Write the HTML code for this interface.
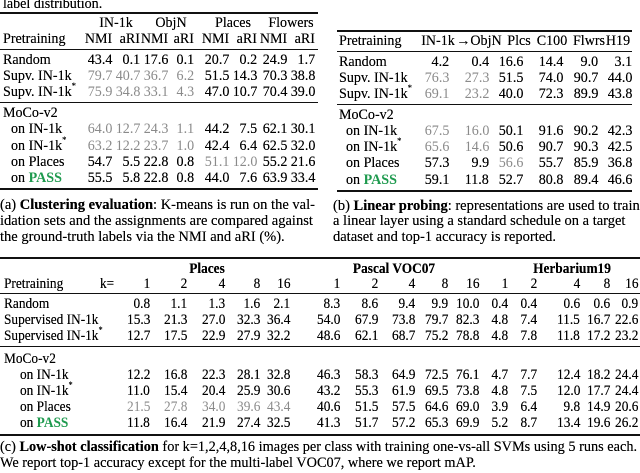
<!DOCTYPE html>
<html><head><meta charset="utf-8">
<style>
html,body{margin:0;padding:0;background:#fff;}
#root{position:relative;width:640px;height:473px;overflow:hidden;font-family:"Liberation Serif",serif;color:#000;}
.t{position:absolute;white-space:nowrap;line-height:16px;height:16px;text-shadow:0 0 0.3px #000;}
.r{position:absolute;background:#111;}
.g{color:#8a8a8a;text-shadow:none;}
.pass{color:#1e9a4e;font-weight:bold;text-shadow:none;}
sup{font-size:9px;line-height:0;position:relative;top:-1px;vertical-align:super;}
</style></head>
<body>
<div id="root"></div>
<script>
// ---- Table (a) clustering data ----
const aRows = ["Random","Supv. IN-1k","Supv. IN-1k*","MoCo-v2","on IN-1k","on IN-1k*","on Places","on PASS"];
const aVals = [
 ["43.4","0.1","17.6","0.1","20.7","0.2","24.9","1.7"],
 ["79.7","40.7","36.7","6.2","51.5","14.3","70.3","38.8"],
 ["75.9","34.8","33.1","4.3","47.0","10.7","70.4","39.0"],
 null,
 ["64.0","12.7","24.3","1.1","44.2","7.5","62.1","30.1"],
 ["63.2","12.2","23.7","1.0","42.4","6.4","62.5","32.0"],
 ["54.7","5.5","22.8","0.8","51.1","12.0","55.2","21.6"],
 ["55.5","5.8","22.8","0.8","44.0","7.6","63.9","33.4"]];
const aGray = [[],[0,1,2,3],[0,1,2,3],[],[0,1,2,3],[0,1,2,3],[4,5],[]];
const aGroups = ["IN-1k","ObjN","Places","Flowers"];
// ---- Table (b) linear probing data ----
const bHeads = ["IN-1k","\u2192ObjN","Plcs","C100","Flwrs","H19"];
const bVals = [
 ["4.2","0.4","16.6","14.4","9.0","3.1"],
 ["76.3","27.3","51.5","74.0","90.7","44.0"],
 ["69.1","23.2","40.0","72.3","89.9","43.8"],
 null,
 ["67.5","16.0","50.1","91.6","90.2","42.3"],
 ["65.6","14.6","50.6","90.7","90.3","42.5"],
 ["57.3","9.9","56.6","55.7","85.9","36.8"],
 ["59.1","11.8","52.7","80.8","89.4","46.6"]];
const bGray = [[],[0,1],[0,1],[],[0,1],[0,1],[2],[]];
// ---- Table (c) low-shot data ----
const cRows = ["Random","Supervised IN-1k","Supervised IN-1k*","MoCo-v2","on IN-1k","on IN-1k*","on Places","on PASS"];
const cGroups = ["Places","Pascal VOC07","Herbarium19"];
const cK = ["1","2","4","8","16"];
const cVals = [
 ["0.8","1.1","1.3","1.6","2.1","8.3","8.6","9.4","9.9","10.0","0.4","0.4","0.6","0.6","0.9"],
 ["15.3","21.3","27.0","32.3","36.4","54.0","67.9","73.8","79.7","82.3","4.8","7.4","11.5","16.7","22.6"],
 ["12.7","17.5","22.9","27.9","32.2","48.6","62.1","68.7","75.2","78.8","4.8","7.8","11.8","17.2","23.2"],
 null,
 ["12.2","16.8","22.3","28.1","32.8","46.3","58.3","64.9","72.5","76.1","4.7","7.7","12.4","18.2","24.4"],
 ["11.0","15.4","20.4","25.9","30.6","43.2","55.3","61.9","69.5","73.8","4.8","7.5","12.0","17.7","24.4"],
 ["21.5","27.8","34.0","39.6","43.4","40.6","51.5","57.5","64.6","69.0","3.9","6.4","9.8","14.9","20.6"],
 ["11.8","16.4","21.9","27.4","32.5","41.3","51.7","57.2","65.3","69.9","5.2","8.7","13.4","19.6","26.2"]];
const cGray = [[],[],[],[],[],[],[0,1,2,3,4],[]];

const root = document.getElementById('root');
function txt(s, x, y, opts){
  opts = opts || {};
  const d = document.createElement('div');
  d.className = 't' + (opts.cls ? ' ' + opts.cls : '');
  d.style.top = (y - 8) + 'px';
  d.style.fontSize = (opts.fs || 14.5) + 'px';
  const sx = opts.sx || 1;
  if (opts.bold) d.style.fontWeight = 'bold';
  if (opts.align === 'right') { d.style.right = (640 - x) + 'px'; d.style.transformOrigin = 'right center'; }
  else if (opts.align === 'center') { d.style.left = (x - 100) + 'px'; d.style.width = '200px'; d.style.textAlign = 'center'; d.style.transformOrigin = 'center center'; }
  else { d.style.left = x + 'px'; d.style.transformOrigin = 'left center'; }
  if (sx !== 1) d.style.transform = 'scaleX(' + sx + ')';
  d.innerHTML = s;
  root.appendChild(d);
  return d;
}
function rule(x, y, w, h){
  const d = document.createElement('div');
  d.className = 'r';
  d.style.left = x + 'px'; d.style.top = y + 'px'; d.style.width = w + 'px'; d.style.height = h + 'px';
  
  
  root.appendChild(d);
}
function label(s){
  return s.replace('PASS','<span class="pass">PASS</span>').replace('*','<sup>*</sup>');
}
const SA = 0.97, FA = 14.5, SC = 0.92, FC = 14.5;

// ---------- Table (a) ----------
let c = txt('label distribution.', 3, 4, {sx:SA, fs:FA});


rule(0, 12, 318, 1.5); rule(0, 49, 318, 1); rule(0, 102, 318, 1); rule(0, 188, 318, 1.5);
const aRight = [112,140,168,194,229,257,287,315];
const aRowY = [60,76,92,113,129,146,162,178];
aGroups.forEach((g,i)=>{
  const e = txt(g, (aRight[2*i]+aRight[2*i+1])/2 - 10, 23, {align:'center', sx:SA, fs:FA});
  
  
  const n = txt('NMI', aRight[2*i], 39, {align:'right', sx:SA, fs:FA});
  
  
  const a = txt('aRI', aRight[2*i+1], 39, {align:'right', sx:SA, fs:FA});
  
  
});
let h = txt('Pretraining', 3, 39, {sx:SA, fs:FA});


aRows.forEach((r,i)=>{
  const e = txt(label(r), i>3 ? 11 : 3, aRowY[i], {sx:SA, fs:FA});
  
  
  if (!aVals[i]) return;
  aVals[i].forEach((v,j)=>{
    const cell = txt(v, aRight[j], aRowY[i], {align:'right', sx:SA, fs:FA, cls: aGray[i].includes(j)?'g':''});
    
    
  });
});
c = txt('(a) <b>Clustering evaluation</b>: K-means is run on the val-', 0, 205);


txt('idation sets and the assignments are compared against', 0, 221);
txt('the ground-truth labels via the NMI and aRI (%).', 0, 237);

// ---------- Table (b) ----------
rule(337, 30, 295, 1.5); rule(337, 51, 295, 1); rule(337, 104, 295, 1); rule(337, 190, 295, 1.5);
const bRight = [449,489,523,563,598,632];
const bCenter = [438,479,519,552,589,618];
const bRowY = [62,78,94,115,131,147,163,180];
h = txt('Pretraining', 339, 41, {sx:SA, fs:FA});


bHeads.forEach((s,i)=>{
  const e = txt(s, bCenter[i], 41, {align:'center', sx:SA, fs:FA});
  
  
});
aRows.forEach((r,i)=>{
  const e = txt(label(r), i>3 ? 346 : 339, bRowY[i], {sx:SA, fs:FA});
  
  
  if (!bVals[i]) return;
  bVals[i].forEach((v,j)=>{
    const cell = txt(v, bRight[j], bRowY[i], {align:'right', sx:SA, fs:FA, cls: bGray[i].includes(j)?'g':''});
    
    
  });
});
c = txt('(b) <b>Linear probing</b>: representations are used to train', 333, 206);


txt('a linear layer using a standard schedule on a target', 333, 221);
txt('dataset and top-1 accuracy is reported.', 333, 237);

// ---------- Table (c) ----------
rule(0, 257, 640, 1.5); rule(0, 293, 640, 1); rule(0, 346, 640, 1); rule(0, 434, 640, 1.5);
const cRight = [150,187,225,260,290,340,378,415,448,479,508,537,580,610,638];
const cGroupX = [207,394,572];
const cRowY = [304,320,336,359,375,391,407,423];
cGroups.forEach((g,i)=>{
  const e = txt(g, cGroupX[i], 269, {align:'center', bold:true, fs:FC, sx:SC});
  
  
});
h = txt('Pretraining', 4, 284, {fs:FC, sx:SC});


h = txt('k=', 100, 284, {fs:FC, sx:SC});


cRight.forEach((x,j)=>{
  const e = txt(cK[j%5], x, 284, {align:'right', fs:FC, sx:SC});
  
  
});
cRows.forEach((r,i)=>{
  const e = txt(label(r), i>3 ? 20 : 4, cRowY[i], {fs:FC, sx:SC});
  
  
  if (!cVals[i]) return;
  cVals[i].forEach((v,j)=>{
    const cell = txt(v, cRight[j], cRowY[i], {align:'right', fs:FC, sx:SC, cls: cGray[i].includes(j)?'g':''});
    
    
  });
});
c = txt('(c) <b>Low-shot classification</b> for k=1,2,4,8,16 images per class with training one-vs-all SVMs using 5 runs each.', 0, 447, {fs:14.3});


txt('We report top-1 accuracy except for the multi-label VOC07, where we report mAP.', 0, 463, {fs:14.3});
</script>
</body></html>
